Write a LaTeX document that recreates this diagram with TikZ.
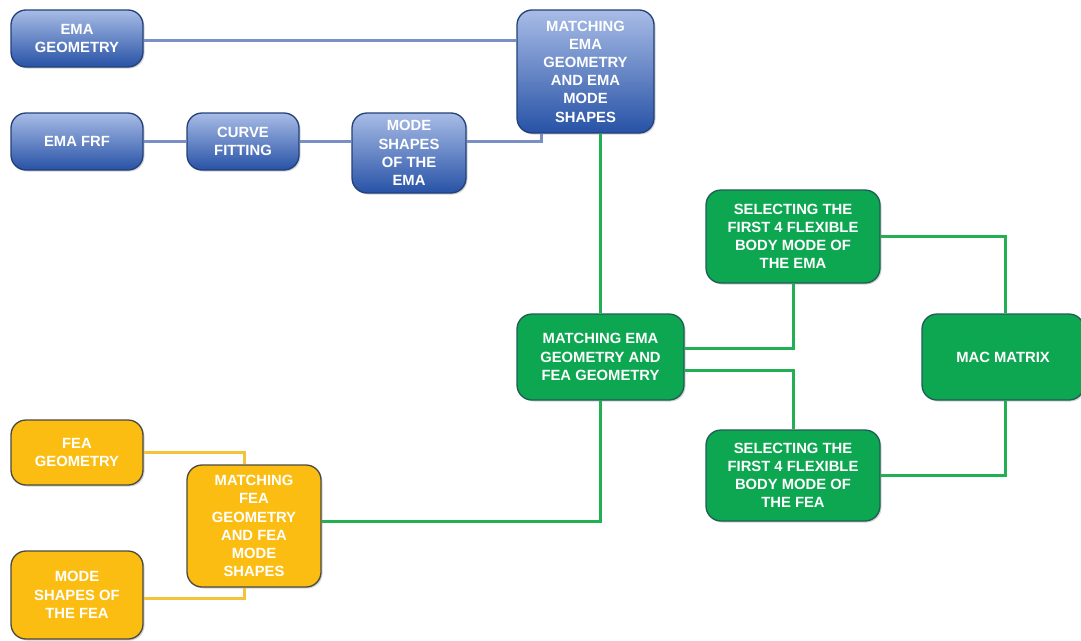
\documentclass[tikz,border=0pt]{standalone}
\usepackage{fontspec}
\setmainfont{Liberation Sans}
\usetikzlibrary{shadows}
\definecolor{bluetop}{HTML}{A8BCE6}
\definecolor{bluemid}{HTML}{6F8ED2}
\definecolor{bluebot}{HTML}{2752A6}
\definecolor{blueedge}{HTML}{22407A}
\definecolor{blueline}{HTML}{7A90C4}
\definecolor{greenfill}{HTML}{0DA651}
\definecolor{greenedge}{HTML}{1D5E55}
\definecolor{greenline}{HTML}{22B052}
\definecolor{yellowfill}{HTML}{FBBD12}
\definecolor{yellowedge}{HTML}{4A4A40}
\definecolor{yellowline}{HTML}{F6C23A}
\tikzset{
  box/.style={rounded corners=15pt, line width=1.3pt, text=white, align=center,
    inner sep=0pt, font=\fontsize{14.8}{18.2}\selectfont\bfseries,
    drop shadow={shadow xshift=1.5pt, shadow yshift=-1.5pt, opacity=0.35}},
  bluebox/.style={box, draw=blueedge, top color=bluetop, middle color=bluemid, bottom color=bluebot},
  greenbox/.style={box, draw=greenedge, fill=greenfill},
  yellowbox/.style={box, draw=yellowedge, fill=yellowfill},
  bl/.style={draw=blueline, line width=3pt},
  gl/.style={draw=greenline, line width=3pt},
  yl/.style={draw=yellowline, line width=3pt},
}
\begin{document}
\begin{tikzpicture}[x=1pt,y=-1pt]
\useasboundingbox (0,0) rectangle (1081,640);
% blue nodes
\node[bluebox, minimum width=132pt, minimum height=57pt] (emageo) at (77,38.5) {EMA\\GEOMETRY};
\node[bluebox, minimum width=132pt, minimum height=57pt] (emafrf) at (77,141.5) {EMA FRF};
\node[bluebox, minimum width=112pt, minimum height=57pt] (curve) at (243,141.5) {CURVE\\FITTING};
\node[bluebox, minimum width=114pt, minimum height=80pt] (modeema) at (409,153) {MODE\\SHAPES\\OF THE\\EMA};
\node[bluebox, minimum width=137pt, minimum height=123pt] (matchema) at (585.5,71.5) {MATCHING\\EMA\\GEOMETRY\\AND EMA\\MODE\\SHAPES};
% green nodes
\node[greenbox, minimum width=167pt, minimum height=86pt] (matchgeo) at (600.5,357) {MATCHING EMA\\GEOMETRY AND\\FEA GEOMETRY};
\node[greenbox, minimum width=174pt, minimum height=93pt] (selema) at (793,236.5) {SELECTING THE\\FIRST 4 FLEXIBLE\\BODY MODE OF\\THE EMA};
\node[greenbox, minimum width=174pt, minimum height=91pt] (selfea) at (793,475.5) {SELECTING THE\\FIRST 4 FLEXIBLE\\BODY MODE OF\\THE FEA};
\node[greenbox, minimum width=162pt, minimum height=86pt] (mac) at (1003,357) {MAC MATRIX};
% yellow nodes
\node[yellowbox, minimum width=132pt, minimum height=65pt] (feageo) at (77,452.5) {FEA\\GEOMETRY};
\node[yellowbox, minimum width=132pt, minimum height=88pt] (modefea) at (77,595) {MODE\\SHAPES OF\\THE FEA};
\node[yellowbox, minimum width=134pt, minimum height=122pt] (matchfea) at (254,526) {MATCHING\\FEA\\GEOMETRY\\AND FEA\\MODE\\SHAPES};
% connectors
\draw[bl] (emageo.east |- 0,40) -- (matchema.west |- 0,40);
\draw[bl] (emafrf) -- (curve);
\draw[bl] (curve.east |- 0,141.5) -- (modeema.west |- 0,141.5);
\draw[bl] (modeema.east |- 0,141.5) -| (541,0 |- matchema.south);
\draw[gl] (600,0 |- matchema.south) -- (600,0 |- matchgeo.north);
\draw[gl] (matchgeo.east |- 0,348) -| (selema.south);
\draw[gl] (matchgeo.east |- 0,370) -| (selfea.north);
\draw[gl] (selema.east) -| (1005,0 |- mac.north);
\draw[gl] (selfea.east) -| (1005,0 |- mac.south);
\draw[gl] (matchfea.east |- 0,521) -| (600,0 |- matchgeo.south);
\draw[yl] (feageo.east |- 0,452) -| (244,0 |- matchfea.north);
\draw[yl] (modefea.east |- 0,598) -| (244,0 |- matchfea.south);
\end{tikzpicture}
\end{document}
